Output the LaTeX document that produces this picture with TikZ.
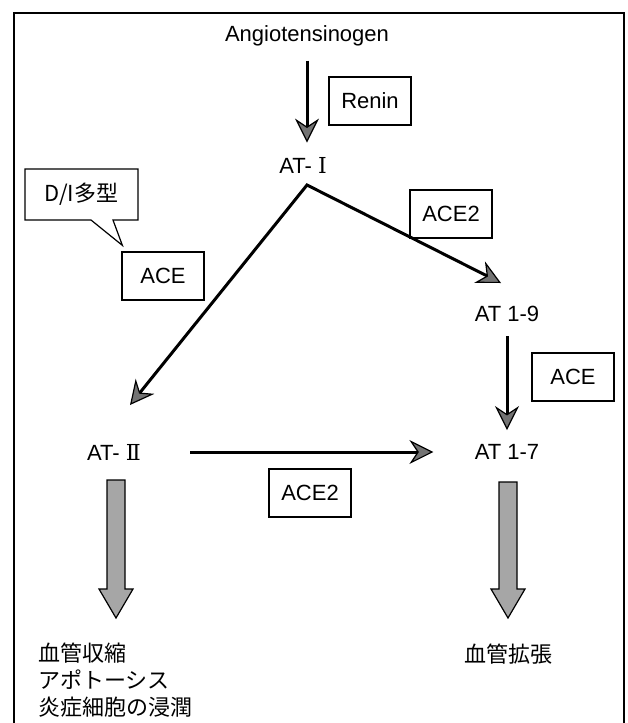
\documentclass[tikz,border=0pt]{standalone}
\usepackage{fontspec}
\setmainfont{Liberation Sans}
\newfontfamily\jp{Noto Sans CJK JP}
\newfontfamily\numfont{DejaVu Serif}
\usepackage{tikz}
\usetikzlibrary{arrows.meta, positioning, calc, shapes.callouts}

% fat shaded arrow, #1 top of shaft, #2 tip
\newcommand{\fatarrow}[2]{%
  \draw[fat] let \p1=#1, \p2=#2 in
    (\x1-4.5pt,\y1) -- (\x1+4.5pt,\y1) -- (\x1+4.5pt,\y2+14.5pt) -- (\x1+8.5pt,\y2+14.5pt)
    -- (\x1,\y2) -- (\x1-8.5pt,\y2+14.5pt) -- (\x1-4.5pt,\y2+14.5pt) -- cycle;}

\begin{document}
\begin{tikzpicture}[x=0.5pt, y=-0.5pt,
  >={Stealth[length=12pt, width=12pt, inset=4pt, fill=black!55, line width=0.6pt]},
  lbl/.style={inner sep=7pt, font=\fontsize{11}{13}\selectfont},
  enz/.style={draw, line width=0.6pt, minimum width=41pt, minimum height=24pt, inner sep=2pt, font=\fontsize{11}{13}\selectfont},
  conn/.style={line width=1.5pt, ->},
  fat/.style={draw, line width=0.6pt, fill=black!35}]
  \useasboundingbox (0,0) rectangle (627,723);
  \draw[line width=0.6pt] (14,723) -- (14,13) -- (624,13) -- (624,723);

  % substances
  \node[lbl] (ang) at (307,36) {Angiotensinogen};
  \node[lbl] (at1) at (303,165) {AT- {\numfont Ⅰ}};
  \node[lbl] (at19) at (507,314) {AT 1-9};
  \node[lbl] (at2) at (114,452) {AT- {\numfont Ⅱ}};
  \node[lbl] (at17) at (507,452) {AT 1-7};

  % enzymes
  \node[enz] (renin) at (370,101) {Renin};
  \node[enz] (ace2a) at (451,214) {ACE2};
  \node[enz] (acel) at (163,276) {ACE};
  \node[enz] (acer) at (573,377) {ACE};
  \node[enz] (ace2b) at (310,493) {ACE2};
  \node[rectangle callout, draw, line width=0.6pt, minimum width=56.5pt, minimum height=25.5pt,
    callout pointer width=11pt, callout absolute pointer={($(acel.north west)+(1,-6)$)},
    font=\jp\fontsize{11}{13}\selectfont] (di) at (81.5,194.5) {D/I多型};

  % effects
  \node[font=\jp\fontsize{11}{13.3}\selectfont, align=left, anchor=west, inner sep=0pt] (eff2) at (38,680)
    {血管収縮\\アポトーシス\\炎症細胞の浸潤};
  \node[font=\jp\fontsize{11}{13}\selectfont, inner sep=0pt] (eff17) at (508,654) {血管拡張};

  % conversions
  \coordinate (split) at (307,185);
  \coordinate (tip2) at (130,405);
  \coordinate (tip19) at (501,283);
  \draw[conn] (ang.south) -- (ang.south |- at1.north);
  \draw[line width=1.5pt, <->] (tip2) -- (split) -- (tip19);
  \draw[conn] (at19) -- (at17);
  \draw[conn, shorten <=17.5pt, shorten >=13.5pt] (at2) -- (at17);

  \coordinate (f2a) at (116,480);
  \coordinate (f2b) at (116,618);
  \coordinate (f17a) at (508,482);
  \coordinate (f17b) at (508,618);
  \fatarrow{(f2a)}{(f2b)}
  \fatarrow{(f17a)}{(f17b)}
\end{tikzpicture}
\end{document}
